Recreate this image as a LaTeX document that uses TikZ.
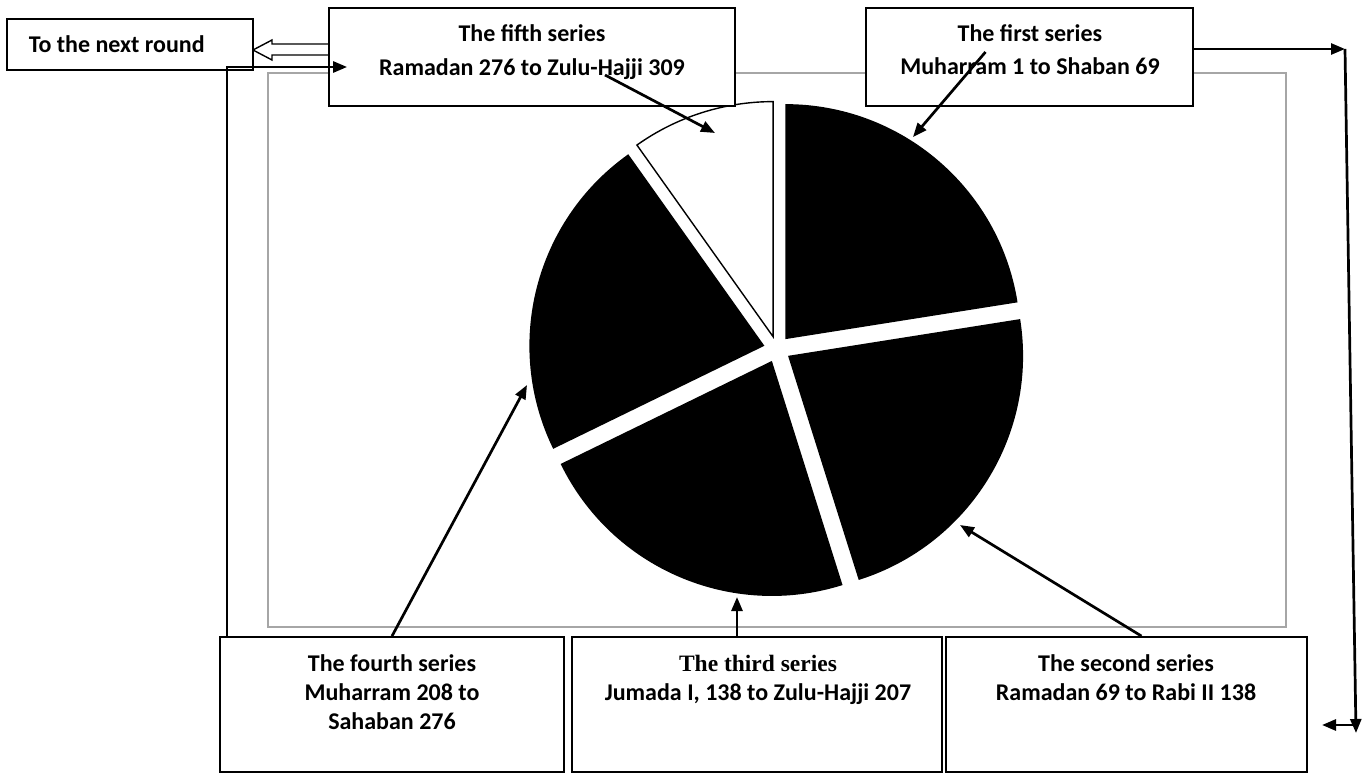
\documentclass[tikz,border=0pt]{standalone}
\usepackage{fontspec}
\setmainfont{Carlito}
\newfontfamily\timesbf{Liberation Serif}
\usetikzlibrary{arrows.meta, positioning, calc}
\definecolor{cgrey}{HTML}{A6A6A6}
\tikzset{
  every picture/.style={font=\bfseries, line width=1.5pt},
  box/.style={draw=black, fill=white, inner sep=0pt, line width=1.8pt},
  lbl/.style={font=\bfseries\fontsize{24}{29}\selectfont, align=center, inner sep=0pt},
  arrow/.style={-{Triangle[length=14pt, width=11pt]}, draw=black, line width=2.7pt},
  hollow/.style={draw=black, fill=white, line width=1.4pt},
}

\begin{document}
\begin{tikzpicture}[x=1pt, y=-1pt]
  \useasboundingbox (0,0) rectangle (1363,773);
  % frame round the chart
  \draw[cgrey, line width=1.6pt] (268,73) rectangle (1286,627);
  % pie, every slice pushed out a little (y is flipped, so angles are negated)
  \coordinate (c) at (777,349);
  \foreach \a/\b in {-90/-9, -9/72.5, 72.5/154, 154/234.6} {
    \pgfmathsetmacro{\m}{(\a+\b)/2}
    \fill ($(c)+(\m:13)$) -- ++(\a:235) arc[start angle=\a, end angle=\b, radius=235] -- cycle;
  }
  % fifth series slice left white
  \draw[hollow] ($(c)+(252.3:13)$) -- ++(234.6:235) arc[start angle=234.6, end angle=270, radius=235] -- cycle;
  \coordinate (tip1) at (913,137);
  \coordinate (tip2) at (960,525);
  \coordinate (tip3) at (737,597);
  \coordinate (tip4) at (527,385);
  \coordinate (tip5) at (715,133);
  % boxes
  \draw[hollow] (253,50) -- ++(19,-10) -- ++(0,4) -- (330,44) -- (330,55) -- (272,55) -- ++(0,5) -- cycle;
  \node[box, minimum width=246pt, minimum height=51pt] (next) at (130,44.5) {};
  \node[box, minimum width=406pt, minimum height=98pt] (fifth) at (532,57) {};
  \node[box, minimum width=327pt, minimum height=98pt] (first) at (1029.5,57) {};
  \node[box, minimum width=344pt, minimum height=135pt] (fourth) at (392,704.5) {};
  \node[box, minimum width=370pt, minimum height=135pt] (third) at (757,704.5) {};
  \node[box, minimum width=361pt, minimum height=135pt] (second) at (1126.5,704.5) {};
  % texts, anchored on the baseline of their last line
  \node[lbl, anchor=base west] (nexttxt) at (28,53) {To the next round};
  \node[lbl, anchor=base] (fifthtxt) at (532,76) {The fifth series\\[5pt]Ramadan 276 to Zulu-Hajji 309};
  \node[lbl, anchor=base] (firsttxt) at (1030,75) {The first series\\[4pt]Muharram 1 to Shaban 69};
  \node[lbl, anchor=base] (fourthtxt) at (392,729) {The fourth series\\Muharram 208 to\\ Sahaban 276};
  \node[lbl, anchor=base] (thirdtxt) at (758,700) {{\timesbf\fontsize{23.5}{29}\selectfont The third series}\\Jumada I, 138 to Zulu-Hajji 207};
  \node[lbl, anchor=base] (secondtxt) at (1126,700) {The second series\\Ramadan 69 to Rabi II 138};
  % connectors
  \draw[arrow] ([xshift=8pt]fourth.north west) |- ([xshift=19pt,yshift=-10pt]fifth.west);
  \coordinate (rtop) at (1345,49);
  \coordinate (rbot) at (1356,733);
  \coordinate (rend) at (1322,725);
  \draw[arrow] ([yshift=8pt]first.east) -- (rtop);
  \draw[arrow] (rtop) -- (rbot);
  \draw[arrow] ([yshift=8pt]rbot) -- (rend);
  \draw[arrow] ([xshift=73pt,yshift=-18pt]fifth.center) -- (tip5);
  \draw[arrow] ([xshift=-44pt,yshift=5pt]first.center) -- (tip1);
  \draw[arrow] (fourth.north) -- (tip4);
  \draw[arrow] ([xshift=-20pt]third.north) -- (tip3);
  \draw[arrow] ([xshift=15pt]second.north) -- (tip2);
\end{tikzpicture}
\end{document}
